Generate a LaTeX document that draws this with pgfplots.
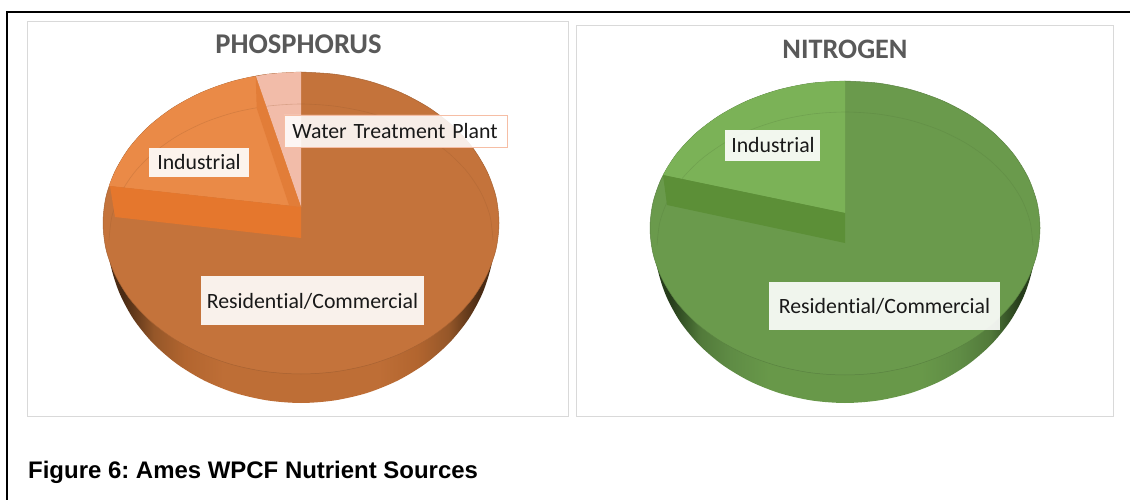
\documentclass[border=0pt]{standalone}
\usepackage{fontspec}
\usepackage{pgfplots}
\pgfplotsset{compat=1.18}
\setmainfont[Ligatures=NoCommon]{Carlito}
\newfontfamily\capfont{Liberation Sans}
\definecolor{panel}{HTML}{D9D9D9}
\definecolor{pface}{HTML}{C4733B}
\definecolor{pind}{HTML}{EA8A47}
\definecolor{pwall}{HTML}{E5772D}
\definecolor{pstrip}{HTML}{E27D38}
\definecolor{pwater}{HTML}{F2BCA9}
\definecolor{pd0}{HTML}{4A2B14}
\definecolor{pda}{HTML}{6E401E}
\definecolor{pd1}{HTML}{965729}
\definecolor{pd2}{HTML}{B2652F}
\definecolor{pd3}{HTML}{BE6E36}
\definecolor{nface}{HTML}{6A9A4C}
\definecolor{nind}{HTML}{7BB257}
\definecolor{nwall}{HTML}{5C8F37}
\definecolor{nd0}{HTML}{263C1B}
\definecolor{nda}{HTML}{3A5A2A}
\definecolor{nd1}{HTML}{527A3A}
\definecolor{nd2}{HTML}{5F8C45}
\definecolor{nd3}{HTML}{689849}
\pgfdeclarehorizontalshading{wallP}{100bp}{color(0bp)=(pd0);color(27bp)=(pd0);color(29bp)=(pda);color(31bp)=(pd1);color(35bp)=(pd2);color(40bp)=(pd3);color(60bp)=(pd3);color(65bp)=(pd2);color(69bp)=(pd1);color(71bp)=(pda);color(73bp)=(pd0);color(100bp)=(pd0)}
\pgfdeclarehorizontalshading{wallN}{100bp}{color(0bp)=(nd0);color(27bp)=(nd0);color(29bp)=(nda);color(31bp)=(nd1);color(35bp)=(nd2);color(40bp)=(nd3);color(60bp)=(nd3);color(65bp)=(nd2);color(69bp)=(nd1);color(71bp)=(nda);color(73bp)=(nd0);color(100bp)=(nd0)}
\newcommand{\lbl}[1]{\fontsize{21.8}{25}\selectfont #1}
\begin{document}
\frenchspacing
\begin{tikzpicture}
\path[use as bounding box] (0,0) rectangle (1130pt,500pt);
\begin{axis}[
  at={(0,0)}, anchor=south west,
  scale only axis, width=1130pt, height=500pt,
  xmin=0, xmax=1130, ymin=0, ymax=500, y dir=reverse,
  hide axis,
]
% frame
\addplot[black, line width=2pt] coordinates {(7,500) (7,12) (1130,12)};
% panels
\addplot[panel, line width=1pt] coordinates {(27,22) (568.5,22) (568.5,416.5) (27,416.5) (27,22)};
\addplot[panel, line width=1pt] coordinates {(576,26) (1113.5,26) (1113.5,416.5) (576,416.5) (576,26)};

% ---------- Phosphorus
\addplot[draw=none, shade, shading=wallP, smooth] coordinates {(107.5,235) (110.4,264.2) (119.2,292.5) (133.4,319) (152.8,343) (176.6,363.7) (204.2,380.5) (234.8,392.9) (267.4,400.4) (301,403) (334.6,400.4) (367.2,392.9) (397.8,380.5) (425.4,363.7) (449.2,343) (468.6,319) (482.8,292.5) (491.6,264.2) (494.5,235)};
\addplot[fill=pface, draw=pface!85!black, line width=0.5pt, smooth] coordinates {(301,72) (335.4,74.3) (368.7,81.1) (400,92.2) (428.3,107.3) (452.7,125.9) (472.5,147.5) (487,171.4) (496,196.8) (499,223) (496,249.2) (487,274.6) (472.5,298.5) (452.7,320.1) (428.3,338.7) (400,353.8) (368.7,364.9) (335.4,371.7) (301,374) (266.6,371.7) (233.3,364.9) (202,353.8) (173.7,338.7) (149.3,320.1) (129.5,298.5) (115,274.6) (106,249.2) (103,223) (106,196.8) (115,171.4) (129.5,147.5) (149.3,125.9) (173.7,107.3) (202,92.2) (233.3,81.1) (266.6,74.3) (301,72)};
% industrial slice
\addplot[fill=pind, draw=none] coordinates {(256,76.3) (249.8,77.1) (233.3,81.1) (217.3,86.1) (202,92.2) (187.4,99.3) (173.7,107.3) (161,116.2) (149.3,125.9) (138.8,136.4) (129.5,147.5) (121.6,159.2) (115,171.4) (109.7,183.9) (109,186) (301,207)};
% water treatment slice
\addplot[fill=pwater, draw=none] coordinates {(301,72) (283.7,72.6) (266.6,74.3) (256,76.3) (301,207)};
% inner rim
\addplot[pface!75!black, opacity=0.25, line width=0.6pt, smooth] coordinates {(109,240) (111.9,216.4) (120.6,193.5) (134.7,172) (153.9,152.6) (177.6,135.8) (205,122.2) (235.3,112.2) (267.7,106.1) (301,104) (334.3,106.1) (366.7,112.2) (397,122.2) (424.4,135.8) (448.1,152.6) (467.3,172) (481.4,193.5) (490.1,216.4) (493,240)};
% slice walls
\addplot[fill=pstrip, draw=none] coordinates {(255.7,76.7) (301,207) (289.3,206) (256.7,108.3)};
\addplot[fill=pwall, draw=none] coordinates {(110,186) (115,217) (301,238) (301,207)};

% ---------- Nitrogen
\addplot[draw=none, shade, shading=wallN, smooth] coordinates {(654.5,240) (657.4,268.3) (666,295.7) (680,321.5) (699.1,344.8) (722.5,364.9) (749.7,381.2) (779.8,393.2) (811.9,400.5) (845,403) (878.1,400.5) (910.2,393.2) (940.3,381.2) (967.5,364.9) (990.9,344.8) (1010,321.5) (1024,295.7) (1032.6,268.3) (1035.5,240)};
\addplot[fill=nface, draw=nface!85!black, line width=0.5pt, smooth] coordinates {(845,81) (878.9,83.2) (911.7,89.9) (942.5,100.7) (970.3,115.4) (994.4,133.5) (1013.9,154.5) (1028.2,177.7) (1037,202.5) (1040,228) (1037,253.5) (1028.2,278.3) (1013.9,301.5) (994.4,322.5) (970.3,340.6) (942.5,355.3) (911.7,366.1) (878.9,372.8) (845,375) (811.1,372.8) (778.3,366.1) (747.5,355.3) (719.7,340.6) (695.6,322.5) (676.1,301.5) (661.8,278.3) (653,253.5) (650,228) (653,202.5) (661.8,177.7) (676.1,154.5) (695.6,133.5) (719.7,115.4) (747.5,100.7) (778.3,89.9) (811.1,83.2) (845,81)};
\addplot[fill=nind, draw=none] coordinates {(845,81) (828,81.6) (811.1,83.2) (794.5,86) (778.3,89.9) (762.6,94.8) (747.5,100.7) (733.1,107.6) (719.7,115.4) (707.1,124.1) (695.6,133.5) (685.3,143.7) (676.1,154.5) (668.3,165.9) (663,175) (845,213)};
\addplot[nface!75!black, opacity=0.25, line width=0.6pt, smooth] coordinates {(657,245) (659.9,221.9) (668.3,199.5) (682.2,178.5) (701,159.5) (724.2,143.1) (751,129.8) (780.7,120) (812.4,114) (845,112) (877.6,114) (909.3,120) (939,129.8) (965.8,143.1) (989,159.5) (1007.8,178.5) (1021.7,199.5) (1030.1,221.9) (1033,245)};
\addplot[fill=nwall, draw=none] coordinates {(663,175) (667,205) (845,243) (845,213)};

% ---------- label boxes
\addplot[fill=white, fill opacity=0.9, draw=none] coordinates {(201,276) (424,276) (424,325) (201,325)};
\addplot[fill=white, fill opacity=0.88, draw={rgb,255:red,246;green,190;blue,165}, line width=0.8pt] coordinates {(284,115) (507,115) (507,147) (284,147) (284,115)};
\addplot[fill=white, fill opacity=0.9, draw=none] coordinates {(148.5,148) (249,148) (249,176.5) (148.5,176.5)};
\addplot[fill=white, fill opacity=0.9, draw=none] coordinates {(769,282) (1000,282) (1000,330) (769,330)};
\addplot[fill=white, fill opacity=0.9, draw=none] coordinates {(725,130) (820,130) (820,161) (725,161)};

% ---------- text
\node[anchor=base, inner sep=0pt, text=black!90] at (axis cs:312.5,308) {\lbl{Residential/Commercial}};
\node[anchor=base, inner sep=0pt, text=black!90] at (axis cs:395,139) {\lbl{Water\ \kern2pt Treatment\ \kern2pt Plant}};
\node[anchor=base, inner sep=0pt, text=black!90] at (axis cs:199,170) {\lbl{Industrial}};
\node[anchor=base, inner sep=0pt, text=black!90] at (axis cs:884.5,313) {\lbl{Residential/Commercial}};
\node[anchor=base, inner sep=0pt, text=black!90] at (axis cs:773,153) {\lbl{Industrial}};
\node[anchor=base, inner sep=0pt, text={rgb,255:red,89;green,89;blue,89}] at (axis cs:298.5,54) {\fontsize{28.6}{32}\selectfont\bfseries PHOSPHORUS};
\node[anchor=base, inner sep=0pt, text={rgb,255:red,89;green,89;blue,89}] at (axis cs:845,59) {\fontsize{28.2}{32}\selectfont\bfseries NITROGEN};
\node[anchor=base west, inner sep=0pt] at (axis cs:28,478) {\capfont\fontsize{23.95}{27}\selectfont\bfseries Figure 6: Ames WPCF Nutrient Sources};
\end{axis}
\end{tikzpicture}
\end{document}
